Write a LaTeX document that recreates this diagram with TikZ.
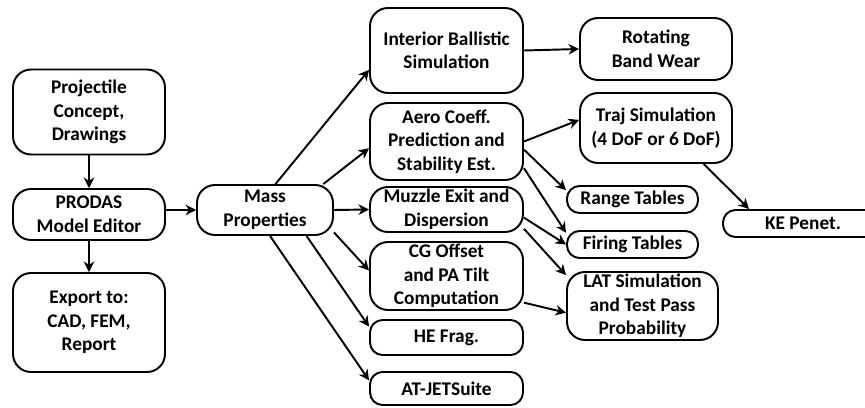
\documentclass[tikz,border=0pt]{standalone}
\usepackage{fontspec}
\setmainfont{Carlito}
\usetikzlibrary{arrows.meta}
\tikzset{
  blk/.style={draw, line width=1.1pt, rounded corners=0.36cm, align=center,
    inner sep=1pt, font=\bfseries\fontsize{11}{13.4}\selectfont},
  pill/.style={blk, rounded corners=0.25cm},
}
\begin{document}
\begin{tikzpicture}[x=0.02cm,y=-0.02cm]
      \useasboundingbox (0,0) rectangle (865,408);
      % left column
      \node[blk, minimum width=3.04cm, minimum height=1.7cm] (proj) at (89,112) {Projectile\\Concept,\\Drawings};
      \node[blk, minimum width=3.04cm, minimum height=1.02cm] (prodas) at (89,214.5) {PRODAS\\Model Editor};
      \node[blk, minimum width=3.04cm, minimum height=1.98cm] (export) at (89,322.5) {Export to:\\CAD, FEM,\\Report};
      \node[blk, minimum width=2.72cm, minimum height=1.0cm] (mass) at (265,210) {Mass\\Properties};
      % middle column
      \node[blk, minimum width=3.06cm, minimum height=1.7cm] (interior) at (446.5,50.5) {Interior Ballistic\\Simulation};
      \node[blk, minimum width=3.06cm, minimum height=1.54cm] (aero) at (446.5,141.5) {Aero Coeff.\\Prediction and\\Stability Est.};
      \node[blk, minimum width=3.06cm, minimum height=0.9cm] (muzzle) at (446.5,209.5) {Muzzle Exit and\\Dispersion};
      \node[blk, minimum width=3.06cm, minimum height=1.36cm] (cg) at (446.5,276) {CG Offset\\and PA Tilt\\Computation};
      \node[pill, minimum width=3.06cm, minimum height=0.7cm] (he) at (446.5,337.5) {HE Frag.};
      \node[pill, minimum width=3.06cm, minimum height=0.66cm] (atjet) at (446.5,388.5) {AT-JETSuite};
      % right column
      \node[blk, minimum width=3.04cm, minimum height=1.24cm] (rotating) at (656,49) {Rotating\\Band Wear};
      \node[blk, minimum width=3.04cm, minimum height=1.4cm] (traj) at (656,128) {Traj Simulation\\(4 DoF or 6 DoF)};
      \node[pill, minimum width=2.62cm, minimum height=0.54cm] (range) at (632.5,199.5) {Range Tables};
      \node[pill, minimum width=2.62cm, minimum height=0.54cm] (firing) at (632.5,244.5) {Firing Tables};
      \node[blk, minimum width=3.02cm, minimum height=1.36cm] (lat) at (642.5,306) {LAT Simulation\\and Test Pass\\Probability};
      \node[pill, minimum width=3.2cm, minimum height=0.54cm] (ke) at (803,223.5) {KE Penet.};
      \begin{scope}[-{Stealth[length=6pt,width=6pt]}, line width=1.1pt]
        \draw (proj) -- (prodas);
        \draw (prodas) -- (export);
        \draw (mass.west -| prodas.east) -- (mass.west);
        \draw (mass.68) -- (interior.194);
        \draw (mass.24) -- (aero.185);
        \draw (mass.east) -- (muzzle.west);
        \draw (mass.-18) -- (cg.176);
        \draw (mass.-32) -- (he.172);
        \draw (mass.-79) -- (atjet.174);
        \draw (interior.east) -- (rotating.west);
        \draw (aero.east) -- (traj.174);
        \draw (aero.-6) -- (range.172);
        \draw (aero.-19) -- (firing.170);
        \draw (muzzle.-6) -- (firing.west);
        \draw (muzzle.-14) -- (lat.158);
        \draw (cg.-19) -- (lat.185);
        \draw (traj.-37) -- (ke.165);
      \end{scope}
\end{tikzpicture}
\end{document}
